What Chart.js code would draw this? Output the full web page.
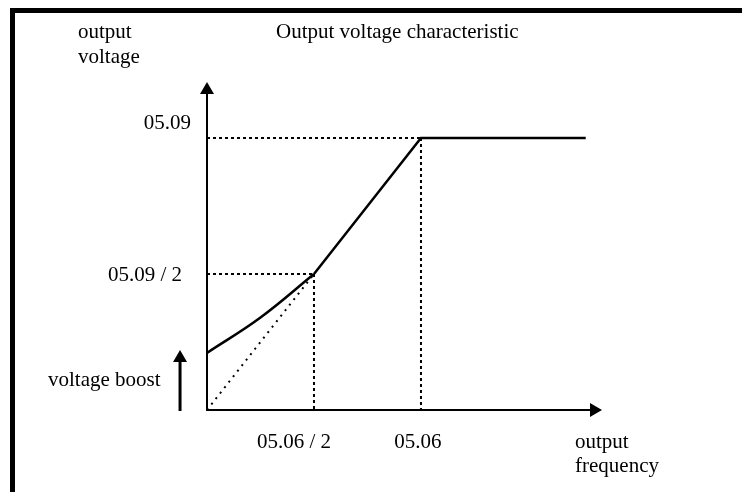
<!DOCTYPE html>
<html lang="en">
<head>
    <meta charset="UTF-8">
    <title>Output voltage characteristic</title>
    <script src="https://cdn.jsdelivr.net/npm/chart.js"></script>
    <style>
        body { margin: 0; background: #fff; }
        #wrap { width: 742px; height: 492px; }
    </style>
</head>
<body>
    <div id="wrap"><canvas id="vfChart" width="742" height="492"></canvas></div>

    <script>
        // frequency in units of 05.06, voltage in units of 05.09
        const boostCurveX = [0, 0.25, 0.5];
        const boostCurveY = [0.21, 0.34, 0.5];
        const rampX = [0.5, 1, 1.77];
        const rampY = [0.5, 1, 1];
        const noBoostX = [0, 0.5];
        const noBoostY = [0, 0.5];
        const xTickValues = [0.5, 1];
        const xTickLabels = ['05.06 / 2', '05.06'];
        const yTickValues = [0.5, 1];
        const yTickLabels = ['05.09 / 2', '05.09'];
        const boostValue = 0.21;

        const FONT = '21px "Liberation Serif", "Times New Roman", serif';

        function toPoints(xs, ys) {
            return xs.map((x, i) => ({ x: x, y: ys[i] }));
        }

        function arrowHead(ctx, x, y, dir) {
            ctx.beginPath();
            if (dir === 'up') {
                ctx.moveTo(x, y);
                ctx.lineTo(x - 7, y + 12);
                ctx.lineTo(x + 7, y + 12);
            } else {
                ctx.moveTo(x, y);
                ctx.lineTo(x - 12, y - 7);
                ctx.lineTo(x - 12, y + 7);
            }
            ctx.closePath();
            ctx.fill();
        }

        // draws frame, axes with arrows, dotted guides, labels
        const diagramPlugin = {
            id: 'diagram',
            beforeDatasetsDraw(chart) {
                const ctx = chart.ctx;
                const xs = chart.scales.x;
                const ys = chart.scales.y;
                const x0 = xs.getPixelForValue(0);
                const y0 = ys.getPixelForValue(0);

                ctx.save();
                // dotted guides
                ctx.strokeStyle = '#000';
                ctx.lineWidth = 2;
                ctx.setLineDash([3, 3]);
                yTickValues.forEach((v, i) => {
                    const xv = xs.getPixelForValue(xTickValues[i]);
                    const yv = ys.getPixelForValue(v);
                    ctx.beginPath();
                    ctx.moveTo(x0, yv);
                    ctx.lineTo(xv, yv);
                    ctx.moveTo(xv, yv);
                    ctx.lineTo(xv, y0);
                    ctx.stroke();
                });
                ctx.restore();
            },
            afterDatasetsDraw(chart) {
                const ctx = chart.ctx;
                const xs = chart.scales.x;
                const ys = chart.scales.y;
                const area = chart.chartArea;
                const x0 = xs.getPixelForValue(0);
                const y0 = ys.getPixelForValue(0);

                ctx.save();
                ctx.fillStyle = '#000';
                ctx.strokeStyle = '#000';

                // frame (top and left)
                ctx.fillRect(10, 8, 742 - 10, 5);
                ctx.fillRect(10, 8, 5, 492 - 8);

                // axes
                ctx.lineWidth = 2;
                ctx.beginPath();
                ctx.moveTo(x0, y0);
                ctx.lineTo(x0, area.top + 8);
                ctx.moveTo(x0 - 1, y0);
                ctx.lineTo(area.right - 8, y0);
                ctx.stroke();
                arrowHead(ctx, x0, area.top, 'up');
                arrowHead(ctx, area.right, y0, 'right');

                // voltage boost arrow
                const bx = xs.getPixelForValue(-0.126);
                const by = ys.getPixelForValue(boostValue);
                ctx.lineWidth = 3;
                ctx.beginPath();
                ctx.moveTo(bx, y0 + 1);
                ctx.lineTo(bx, by + 8);
                ctx.stroke();
                arrowHead(ctx, bx, by - 3, 'up');

                // tick labels
                ctx.font = FONT;
                ctx.textBaseline = 'middle';
                ctx.textAlign = 'right';
                const yShift = [[-25, 1], [-16, -15]];
                yTickValues.forEach((v, i) => {
                    ctx.fillText(yTickLabels[i], x0 + yShift[i][0], ys.getPixelForValue(v) + yShift[i][1]);
                });
                ctx.textAlign = 'center';
                const xShift = [-20, -3];
                xTickValues.forEach((v, i) => {
                    ctx.fillText(xTickLabels[i], xs.getPixelForValue(v) + xShift[i], y0 + 32);
                });

                // texts
                ctx.textAlign = 'left';
                ctx.fillText('Output voltage characteristic', 276, 32);
                ctx.fillText('output', 78, 32);
                ctx.fillText('voltage', 78, 57);
                ctx.fillText('voltage boost', 48, by + 28);
                ctx.fillText('output', 575, y0 + 32);
                ctx.fillText('frequency', 575, y0 + 56);
                ctx.restore();
            }
        };

        const ctx = document.getElementById('vfChart').getContext('2d');
        new Chart(ctx, {
            type: 'scatter',
            data: {
                datasets: [
                    {
                        label: 'output voltage (boost region)',
                        data: toPoints(boostCurveX, boostCurveY),
                        showLine: true,
                        borderColor: '#000',
                        borderWidth: 2.5,
                        pointRadius: 0,
                        tension: 0.4,
                        fill: false
                    },
                    {
                        label: 'output voltage',
                        data: toPoints(rampX, rampY),
                        showLine: true,
                        borderColor: '#000',
                        borderWidth: 2.5,
                        pointRadius: 0,
                        tension: 0,
                        fill: false
                    },
                    {
                        label: 'no boost',
                        data: toPoints(noBoostX, noBoostY),
                        showLine: true,
                        borderColor: '#000',
                        borderWidth: 2,
                        borderDash: [2, 5],
                        pointRadius: 0,
                        fill: false
                    }
                ]
            },
            options: {
                responsive: false,
                animation: false,
                layout: {
                    padding: { left: 207, right: 140, top: 82, bottom: 82 }
                },
                scales: {
                    x: { type: 'linear', min: 0, max: 1.846, display: false },
                    y: { type: 'linear', min: 0, max: 1.206, display: false }
                },
                plugins: {
                    legend: { display: false },
                    tooltip: { enabled: false }
                }
            },
            plugins: [diagramPlugin]
        });
    </script>
</body>
</html>
